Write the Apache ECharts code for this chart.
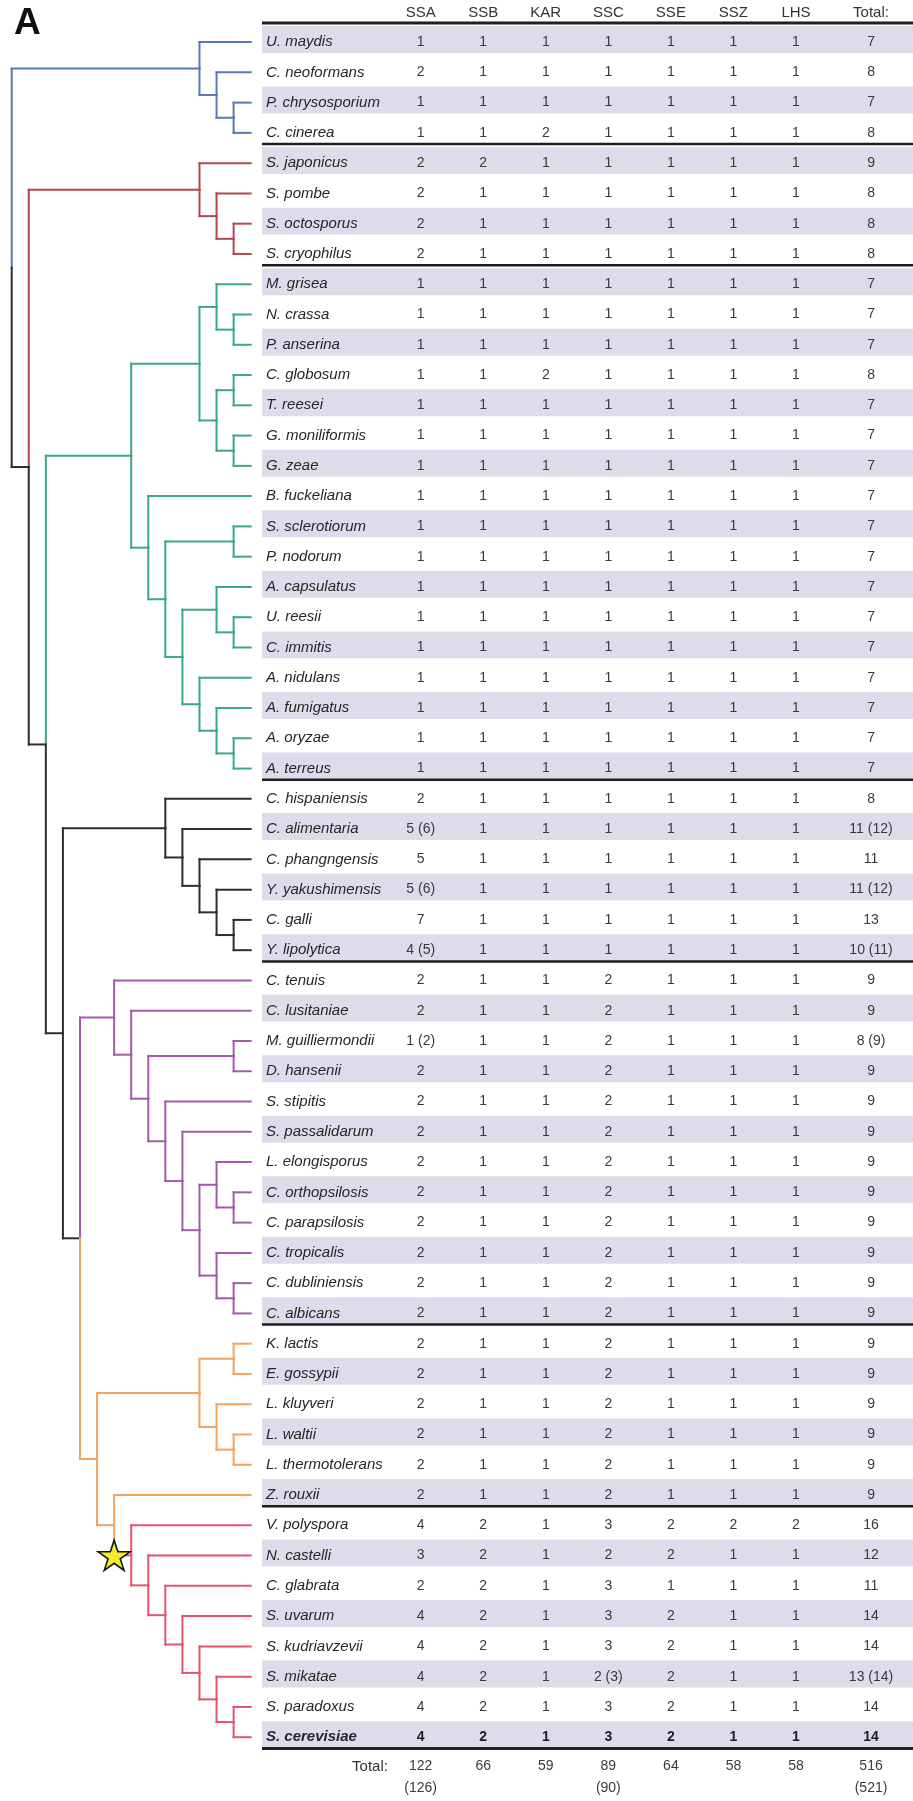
<!DOCTYPE html>
<html>
<head>
<meta charset="utf-8">
<script src="https://cdn.jsdelivr.net/npm/echarts@6/dist/echarts.min.js"></script>
<style>
  html, body { margin: 0; padding: 0; background: #ffffff; }
  #chart { width: 913px; height: 1801px; }
</style>
</head>
<body>
<div id="chart"></div>
<script>
// ---- Species (table rows, top to bottom) ----
const species = [
  'U. maydis', 'C. neoformans', 'P. chrysosporium', 'C. cinerea',
  'S. japonicus', 'S. pombe', 'S. octosporus', 'S. cryophilus',
  'M. grisea', 'N. crassa', 'P. anserina', 'C. globosum', 'T. reesei', 'G. moniliformis', 'G. zeae',
  'B. fuckeliana', 'S. sclerotiorum', 'P. nodorum', 'A. capsulatus', 'U. reesii', 'C. immitis',
  'A. nidulans', 'A. fumigatus', 'A. oryzae', 'A. terreus',
  'C. hispaniensis', 'C. alimentaria', 'C. phangngensis', 'Y. yakushimensis', 'C. galli', 'Y. lipolytica',
  'C. tenuis', 'C. lusitaniae', 'M. guilliermondii', 'D. hansenii', 'S. stipitis', 'S. passalidarum',
  'L. elongisporus', 'C. orthopsilosis', 'C. parapsilosis', 'C. tropicalis', 'C. dubliniensis', 'C. albicans',
  'K. lactis', 'E. gossypii', 'L. kluyveri', 'L. waltii', 'L. thermotolerans', 'Z. rouxii',
  'V. polyspora', 'N. castelli', 'C. glabrata', 'S. uvarum', 'S. kudriavzevii', 'S. mikatae',
  'S. paradoxus', 'S. cerevisiae'
];

// ---- Gene counts per subunit (values in brackets include uncertain copies) ----
const SSA = ['1','2','1','1', '2','2','2','2',
  '1','1','1','1','1','1','1','1','1','1','1','1','1','1','1','1','1',
  '2','5 (6)','5','5 (6)','7','4 (5)',
  '2','2','1 (2)','2','2','2','2','2','2','2','2','2',
  '2','2','2','2','2','2',
  '4','3','2','4','4','4','4','4'];
const SSB = ['1','1','1','1', '2','1','1','1',
  '1','1','1','1','1','1','1','1','1','1','1','1','1','1','1','1','1',
  '1','1','1','1','1','1',
  '1','1','1','1','1','1','1','1','1','1','1','1',
  '1','1','1','1','1','1',
  '2','2','2','2','2','2','2','2'];
const KAR = ['1','1','1','2', '1','1','1','1',
  '1','1','1','2','1','1','1','1','1','1','1','1','1','1','1','1','1',
  '1','1','1','1','1','1',
  '1','1','1','1','1','1','1','1','1','1','1','1',
  '1','1','1','1','1','1',
  '1','1','1','1','1','1','1','1'];
const SSC = ['1','1','1','1', '1','1','1','1',
  '1','1','1','1','1','1','1','1','1','1','1','1','1','1','1','1','1',
  '1','1','1','1','1','1',
  '2','2','2','2','2','2','2','2','2','2','2','2',
  '2','2','2','2','2','2',
  '3','2','3','3','3','2 (3)','3','3'];
const SSE = ['1','1','1','1', '1','1','1','1',
  '1','1','1','1','1','1','1','1','1','1','1','1','1','1','1','1','1',
  '1','1','1','1','1','1',
  '1','1','1','1','1','1','1','1','1','1','1','1',
  '1','1','1','1','1','1',
  '2','2','1','2','2','2','2','2'];
const SSZ = ['1','1','1','1', '1','1','1','1',
  '1','1','1','1','1','1','1','1','1','1','1','1','1','1','1','1','1',
  '1','1','1','1','1','1',
  '1','1','1','1','1','1','1','1','1','1','1','1',
  '1','1','1','1','1','1',
  '2','1','1','1','1','1','1','1'];
const LHS = ['1','1','1','1', '1','1','1','1',
  '1','1','1','1','1','1','1','1','1','1','1','1','1','1','1','1','1',
  '1','1','1','1','1','1',
  '1','1','1','1','1','1','1','1','1','1','1','1',
  '1','1','1','1','1','1',
  '2','1','1','1','1','1','1','1'];
const TOTAL = ['7','8','7','8', '9','8','8','8',
  '7','7','7','8','7','7','7','7','7','7','7','7','7','7','7','7','7',
  '8','11 (12)','11','11 (12)','13','10 (11)',
  '9','9','8 (9)','9','9','9','9','9','9','9','9','9',
  '9','9','9','9','9','9',
  '16','12','11','14','14','13 (14)','14','14'];

// ---- Column headers and column sums ----
const columns = ['SSA', 'SSB', 'KAR', 'SSC', 'SSE', 'SSZ', 'LHS', 'Total:'];
const columnTotals = ['122', '66', '59', '89', '64', '58', '58', '516'];
const columnTotalsAlt = ['(126)', '', '', '(90)', '', '', '', '(521)'];

// ---- Phylogeny (nested pairs of leaf names) ----
const basidio = ['U. maydis', ['C. neoformans', ['P. chrysosporium', 'C. cinerea']]];
const fission = ['S. japonicus', ['S. pombe', ['S. octosporus', 'S. cryophilus']]];
const pezizo = [
  [['M. grisea', ['N. crassa', 'P. anserina']], [['C. globosum', 'T. reesei'], ['G. moniliformis', 'G. zeae']]],
  ['B. fuckeliana', [['S. sclerotiorum', 'P. nodorum'],
    [['A. capsulatus', ['U. reesii', 'C. immitis']], ['A. nidulans', ['A. fumigatus', ['A. oryzae', 'A. terreus']]]]]]
];
const yarrowia = ['C. hispaniensis', ['C. alimentaria', ['C. phangngensis', ['Y. yakushimensis', ['C. galli', 'Y. lipolytica']]]]];
const ctg = ['C. tenuis', ['C. lusitaniae', [['M. guilliermondii', 'D. hansenii'],
  ['S. stipitis', ['S. passalidarum', [['L. elongisporus', ['C. orthopsilosis', 'C. parapsilosis']],
    ['C. tropicalis', ['C. dubliniensis', 'C. albicans']]]]]]]];
const wgd = ['V. polyspora', ['N. castelli', ['C. glabrata', ['S. uvarum', ['S. kudriavzevii', ['S. mikatae', ['S. paradoxus', 'S. cerevisiae']]]]]]];
const saccharo = [[['K. lactis', 'E. gossypii'], ['L. kluyveri', ['L. waltii', 'L. thermotolerans']]], ['Z. rouxii', wgd]];
const phylogeny = [basidio, [fission, [pezizo, [yarrowia, [ctg, saccharo]]]]];

// Coloured clades, given by their first and last leaf; the smallest enclosing one wins
const clades = [
  { first: 'U. maydis', last: 'C. cinerea', color: '#5a78b7' },
  { first: 'S. japonicus', last: 'S. cryophilus', color: '#b2474d' },
  { first: 'M. grisea', last: 'A. terreus', color: '#3aa97f' },
  { first: 'C. hispaniensis', last: 'Y. lipolytica', color: '#2e2e2e' },
  { first: 'C. tenuis', last: 'C. albicans', color: '#a35ba7' },
  { first: 'K. lactis', last: 'S. cerevisiae', color: '#f2a35e' },
  { first: 'V. polyspora', last: 'S. cerevisiae', color: '#e5536b' }
];
const backboneColor = '#2e2e2e';
// Clade whose stem carries the star marker
const starredClade = { first: 'V. polyspora', last: 'S. cerevisiae' };
// Rows where a new group begins in the table
const groupStarts = ['S. japonicus', 'M. grisea', 'C. hispaniensis', 'C. tenuis', 'K. lactis', 'V. polyspora'];

// ---- Layout ----
const ROW_MID = 0.63;          // vertical position of the text/leaf inside a row
const HEADER_Y = -0.32;
const FOOT_Y = 57.6;
const FOOT_ALT_Y = 58.31;
const COL_POS = [0, 1, 2, 3, 4, 5, 6, 7.2];
const LABEL_POS = -2.473;
const FOOT_LABEL_POS = -0.81;
const TBL_MIN = -2.537, TBL_MAX = 7.871;
const FONT = "'Liberation Sans Narrow', 'Arial Narrow', 'Liberation Sans', Arial, sans-serif";
const nRows = species.length;

// ---- Build tree geometry ----
const rowOf = {};
species.forEach((s, i) => { rowOf[s] = i; });

function build(n) {
  if (typeof n === 'string') {
    const r = rowOf[n];
    return { name: n, lo: r, hi: r, h: 0, y: r + ROW_MID };
  }
  const kids = n.map(build);
  return {
    kids,
    lo: Math.min(...kids.map(k => k.lo)),
    hi: Math.max(...kids.map(k => k.hi)),
    h: 1 + Math.max(...kids.map(k => k.h)),
    y: (kids[0].y + kids[kids.length - 1].y) / 2
  };
}
const root = build(phylogeny);
const DEPTH = root.h;

const colorList = [backboneColor].concat(clades.map(c => c.color));
function colorIndex(node) {
  let best = 0, bestSpan = Infinity;
  clades.forEach((c, k) => {
    const a = rowOf[c.first], b = rowOf[c.last];
    if (a <= node.lo && node.hi <= b && b - a < bestSpan) { best = k + 1; bestSpan = b - a; }
  });
  return best;
}
const isStarred = n => n.lo === rowOf[starredClade.first] && n.hi === rowOf[starredClade.last];

const branchSegments = [];
let starPoint = null;
(function walk(n) {
  if (!n.kids) return;
  const xP = DEPTH - n.h;
  n.kids.forEach(c => {
    const xC = DEPTH - c.h;
    const ci = colorIndex(c);
    const vi = isStarred(c) ? colorIndex(n) : ci;
    branchSegments.push([xP, n.y, xP, c.y, vi]);
    branchSegments.push([xP, c.y, xC, c.y, ci]);
    if (isStarred(c)) starPoint = [xP, c.y];
    walk(c);
  });
})(root);

// ---- Table cells ----
const counts = [SSA, SSB, KAR, SSC, SSE, SSZ, LHS, TOTAL];
const cells = [];
const boldRow = rowOf['S. cerevisiae'];
species.forEach((s, i) => {
  cells.push({ x: LABEL_POS, y: i + ROW_MID, t: s, align: 'left', italic: true, bold: i === boldRow, size: 15, color: '#262626' });
  counts.forEach((col, j) => {
    cells.push({ x: COL_POS[j], y: i + ROW_MID, t: col[i], align: 'center', bold: i === boldRow, size: 14, color: i === boldRow ? '#1e1e1e' : '#3a3a3a' });
  });
});
columns.forEach((c, j) => {
  cells.push({ x: COL_POS[j], y: HEADER_Y, t: c, align: 'center', size: 15, color: '#333' });
  cells.push({ x: COL_POS[j], y: FOOT_Y, t: columnTotals[j], align: 'center', size: 14, color: '#3a3a3a' });
  if (columnTotalsAlt[j]) cells.push({ x: COL_POS[j], y: FOOT_ALT_Y, t: columnTotalsAlt[j], align: 'center', size: 14, color: '#3a3a3a' });
});
cells.push({ x: FOOT_LABEL_POS, y: FOOT_Y, t: 'Total:', align: 'center', size: 15, color: '#333' });

const shadedRows = species.map((s, i) => i).filter(i => i % 2 === 0);
const ruleRows = [0, nRows].concat(groupStarts.map(s => rowOf[s]));

const chart = echarts.init(document.getElementById('chart'), null, { renderer: 'canvas' });

const STAR_PATH = 'path://M100,0 L122.45,69.1 L195.1,69.1 L136.3,111.8 L158.8,180.9 L100,138.2 L41.2,180.9 L63.7,111.8 L4.9,69.1 L77.55,69.1 Z';

chart.setOption({
  animation: false,
  backgroundColor: '#ffffff',
  title: {
    text: 'A', left: 9, top: 0,
    textStyle: { fontSize: 37, fontWeight: 'bold', color: '#111', fontFamily: "'Liberation Sans', Arial, sans-serif" }
  },
  grid: [
    { left: 11.7, top: 23, width: 239, height: 1725.4 },
    { left: 262, top: 23, width: 651, height: 1725.4 }
  ],
  xAxis: [
    { type: 'value', gridIndex: 0, min: 0, max: DEPTH, show: false },
    { type: 'value', gridIndex: 1, min: TBL_MIN, max: TBL_MAX, show: false }
  ],
  yAxis: [
    { type: 'value', gridIndex: 0, min: 0, max: nRows, inverse: true, show: false },
    { type: 'value', gridIndex: 1, min: 0, max: nRows, inverse: true, show: false }
  ],
  series: [
    {
      // alternating row bands
      type: 'custom', xAxisIndex: 1, yAxisIndex: 1, clip: false, silent: true, z: 1,
      data: shadedRows.map(i => [TBL_MIN, i]),
      renderItem: (params, api) => {
        const r = api.value(1);
        const p0 = api.coord([TBL_MIN, r + 0.1]);
        const p1 = api.coord([TBL_MAX, r + 0.99]);
        return { type: 'rect', shape: { x: p0[0], y: p0[1], width: p1[0] - p0[0], height: p1[1] - p0[1] },
                 style: { fill: '#dcdcea' } };
      }
    },
    {
      // group rules
      type: 'custom', xAxisIndex: 1, yAxisIndex: 1, clip: false, silent: true, z: 3,
      data: ruleRows.map(r => [TBL_MIN, r]),
      renderItem: (params, api) => {
        const r = api.value(1);
        const p0 = api.coord([TBL_MIN, r]);
        const p1 = api.coord([TBL_MAX, r]);
        const w = (r === 0 || r === nRows) ? 3 : 2.5;
        return { type: 'line', shape: { x1: p0[0], y1: p0[1], x2: p1[0], y2: p1[1] },
                 style: { stroke: '#1f1f1f', lineWidth: w } };
      }
    },
    {
      // table text
      type: 'custom', xAxisIndex: 1, yAxisIndex: 1, clip: false, silent: true, z: 4,
      data: cells.map(c => [c.x, c.y]),
      renderItem: (params, api) => {
        const c = cells[params.dataIndex];
        const p = api.coord([api.value(0), api.value(1)]);
        return { type: 'text', x: p[0], y: p[1],
                 style: { text: c.t, fill: c.color, fontSize: c.size, fontFamily: FONT,
                          fontStyle: c.italic ? 'italic' : 'normal', fontWeight: c.bold ? 'bold' : 'normal',
                          align: c.align, verticalAlign: 'middle' } };
      }
    },
    {
      // tree branches
      type: 'custom', xAxisIndex: 0, yAxisIndex: 0, clip: false, silent: true, z: 2,
      data: branchSegments,
      renderItem: (params, api) => {
        const a = api.coord([api.value(0), api.value(1)]);
        const b = api.coord([api.value(2), api.value(3)]);
        return { type: 'line', shape: { x1: a[0], y1: a[1], x2: b[0], y2: b[1] },
                 style: { stroke: colorList[api.value(4)], lineWidth: 2, lineCap: 'square' } };
      }
    },
    {
      // marker on the stem of the starred clade
      type: 'scatter', xAxisIndex: 0, yAxisIndex: 0, silent: true, z: 5,
      data: [starPoint],
      symbol: STAR_PATH, symbolSize: [32, 30],
      itemStyle: { color: '#f1ec2c', borderColor: '#161616', borderWidth: 1.6, opacity: 1 }
    }
  ]
});
</script>
</body>
</html>
